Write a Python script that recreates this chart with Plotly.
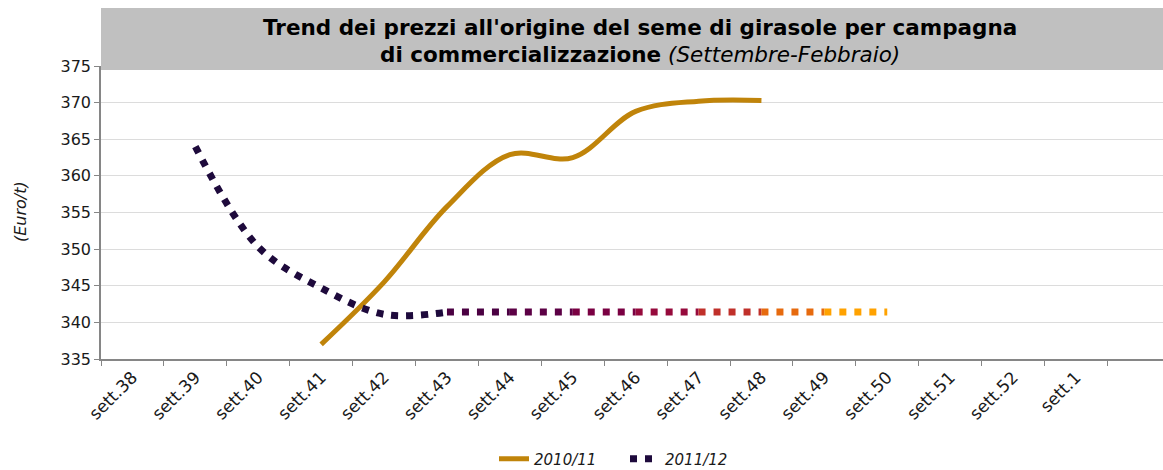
import plotly.graph_objects as go

weeks = ["sett.38", "sett.39", "sett.40", "sett.41", "sett.42", "sett.43", "sett.44", "sett.45",
         "sett.46", "sett.47", "sett.48", "sett.49", "sett.50", "sett.51", "sett.52", "sett.1"]

s_2010_11 = [None, None, None, 337.0, 345.5, 355.8, 362.9, 362.5, 368.8, 370.2, 370.3,
             None, None, None, None, None]
s_2011_12 = [None, 364.0, 350.3, 344.7, 341.1, 341.4, 341.4, 341.4, 341.4, 341.4, 341.4,
             341.4, 341.4, None, None, None]

y_ticks = [335, 340, 345, 350, 355, 360, 365, 370, 375]

# colours for the gradient-like dotted line (from start of flat part to end)
seg_colors = ["#4B0042", "#5C0045", "#7A0042", "#960A3C", "#C0302A", "#E66A0E", "#FFA200"]

FONT = "DejaVu Sans"
W, H = 1163, 470
L, R, T, B = 101, 0, 66, 111
pw = W - L - R
ph = H - T - B

fig = go.Figure()

fig.add_trace(go.Scatter(
    x=weeks, y=s_2010_11, mode="lines", name="2010/11",
    line=dict(color="#C0840A", width=5, shape="spline", smoothing=1.0),
    legendgroup="a", showlegend=True,
))

# 2011/12: curved first part in dark colour, then flat part split into coloured segments
start_flat = 5
fig.add_trace(go.Scatter(
    x=weeks[:start_flat + 1], y=s_2011_12[:start_flat + 1], mode="lines", name="2011/12",
    line=dict(color="#1E0A3C", width=7, shape="spline", smoothing=1.0, dash="7px,8px"),
    legendgroup="b", showlegend=True,
))
last_idx = max(i for i, v in enumerate(s_2011_12) if v is not None)
for k, i in enumerate(range(start_flat, last_idx)):
    fig.add_trace(go.Scatter(
        x=weeks[i:i + 2], y=s_2011_12[i:i + 2], mode="lines", name="2011/12",
        line=dict(color=seg_colors[min(k, len(seg_colors) - 1)], width=7, dash="7px,8px"),
        legendgroup="b", showlegend=False,
    ))

n_cat_visible = pw / 62.9
fig.update_xaxes(
    type="category", categoryorder="array", categoryarray=weeks,
    range=[-0.5, -0.5 + n_cat_visible], automargin=False,
    tickson="boundaries", ticks="outside", ticklen=5, tickcolor="#868686",
    showline=True, linecolor="#868686", linewidth=1.5,
    showgrid=False, tickangle=-45,
    tickfont=dict(family=FONT, size=17, color="#1a1a1a"),
)
fig.update_yaxes(
    range=[335, 375], tickvals=y_ticks, ticks="outside", ticklen=5, tickcolor="#868686",
    showline=True, linecolor="#868686", linewidth=1.5, automargin=False,
    showgrid=True, gridcolor="#DCDCDC", gridwidth=1,
    tickfont=dict(family=FONT, size=16, color="#1a1a1a"),
    zeroline=False,
)

fig.add_annotation(xref="paper", yref="paper", x=(20 - L) / pw, y=(H - B - 212) / ph,
                   text="<i>(Euro/t)</i>", textangle=-90, showarrow=False,
                   xanchor="center", yanchor="middle",
                   font=dict(family=FONT, size=16, color="#1a1a1a"))

# grey title band
fig.add_shape(type="rect", xref="paper", yref="paper",
              x0=0, x1=1, y0=(H - B - 70) / ph, y1=(H - B - 8) / ph,
              fillcolor="#C0C0C0", line=dict(width=0), layer="above")
cx = (640 - L) / pw
fig.add_annotation(xref="paper", yref="paper", x=cx, y=(H - B - 27) / ph,
                   text="<b>Trend dei prezzi all'origine del seme di girasole per campagna</b>",
                   showarrow=False, xanchor="center", yanchor="middle",
                   font=dict(family=FONT, size=21.5, color="#000000"))
fig.add_annotation(xref="paper", yref="paper", x=cx, y=(H - B - 54) / ph,
                   text="<b>di commercializzazione</b> <i>(Settembre-Febbraio)</i>",
                   showarrow=False, xanchor="center", yanchor="middle",
                   font=dict(family=FONT, size=21.5, color="#000000"))

fig.update_layout(
    width=W, height=H,
    margin=dict(l=L, r=R, t=T, b=B, autoexpand=False),
    paper_bgcolor="white", plot_bgcolor="white",
    showlegend=True,
    legend=dict(orientation="h", x=(494 - L) / pw, xanchor="left",
                y=-(459 - (H - B)) / ph, yanchor="middle",
                font=dict(family=FONT, size=15, color="#1a1a1a"),
                entrywidth=86, entrywidthmode="pixels",
                itemwidth=30, bgcolor="rgba(0,0,0,0)"),
)
fig.for_each_trace(lambda t: t.update(name="<i>" + t.name + "</i>"))

fig.write_html("out.html", config={"displayModeBar": False},
               post_script="document.body.style.margin='0';document.body.style.overflow='hidden';")
